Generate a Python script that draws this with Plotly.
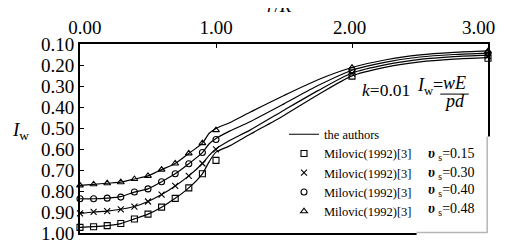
import plotly.graph_objects as go

# ---- data ----
line_x = [0, 0.1, 0.2, 0.3, 0.4, 0.5, 0.6, 0.7, 0.8, 0.9, 0.95, 1.0, 1.1, 1.25, 1.5, 1.75, 2.0, 2.25, 2.5, 2.75, 3.0]
line_015 = [0.973, 0.970, 0.965, 0.955, 0.933, 0.910, 0.877, 0.835, 0.785, 0.718, 0.660, 0.615, 0.585, 0.530, 0.440, 0.342, 0.252, 0.210, 0.185, 0.172, 0.165]
line_030 = [0.907, 0.900, 0.896, 0.887, 0.874, 0.850, 0.817, 0.776, 0.728, 0.669, 0.630, 0.600, 0.560, 0.510, 0.415, 0.322, 0.238, 0.198, 0.173, 0.160, 0.153]
line_040 = [0.837, 0.837, 0.834, 0.827, 0.805, 0.790, 0.756, 0.718, 0.670, 0.617, 0.575, 0.550, 0.515, 0.470, 0.385, 0.298, 0.225, 0.186, 0.162, 0.150, 0.143]
line_048 = [0.773, 0.768, 0.763, 0.758, 0.743, 0.728, 0.698, 0.669, 0.621, 0.572, 0.525, 0.502, 0.475, 0.425, 0.345, 0.270, 0.212, 0.175, 0.152, 0.140, 0.133]

mk_x = [0, 0.1, 0.2, 0.3, 0.4, 0.5, 0.6, 0.7, 0.8, 0.9, 1.0, 2.0, 3.0]
mk_015 = [0.973, 0.970, 0.965, 0.955, 0.933, 0.910, 0.877, 0.835, 0.785, 0.718, 0.654, 0.253, 0.168]
mk_030 = [0.907, 0.899, 0.896, 0.887, 0.874, 0.850, 0.817, 0.776, 0.728, 0.669, 0.602, 0.240, 0.157]
mk_040 = [0.837, 0.837, 0.834, 0.829, 0.805, 0.790, 0.756, 0.718, 0.670, 0.617, 0.555, 0.225, 0.145]
mk_048 = [0.773, 0.768, 0.763, 0.758, 0.743, 0.728, 0.698, 0.669, 0.621, 0.572, 0.510, 0.213, 0.134]

nu_labels = ["0.15", "0.30", "0.40", "0.48"]
x_ticks = [0, 1, 2, 3]
x_tick_labels = ["0.00", "1.00", "2.00", "3.00"]
y_ticks = [0.1, 0.2, 0.3, 0.4, 0.5, 0.6, 0.7, 0.8, 0.9, 1.0]

SERIF = "Liberation Serif"
NB = "\u00a0"

# small visual offsets of the top tick labels (as in the source figure)
pad_left = [2, 0, 0, 0]
pad_right = [0, 0, 1, 4]
x_tick_text = [NB * pl + t + NB * pr for t, pl, pr in zip(x_tick_labels, pad_left, pad_right)]

fig = go.Figure()

lines = [line_015, line_030, line_040, line_048]
for i, ys in enumerate(lines):
    fig.add_trace(go.Scatter(
        x=line_x, y=ys, mode="lines", name="the authors",
        line=dict(color="black", width=1.2, shape="spline", smoothing=0.7),
        showlegend=(i == 0), cliponaxis=False,
    ))

symbols = ["square-open", "x-thin-open", "circle-open", "triangle-up-open"]
marks = [mk_015, mk_030, mk_040, mk_048]
for sym, ys in zip(symbols, marks):
    fig.add_trace(go.Scatter(
        x=mk_x, y=ys, mode="markers", name="Milovic(1992)[3]",
        marker=dict(symbol=sym, size=6, color="black",
                    line=dict(color="black", width=1.1)),
        cliponaxis=False,
    ))

fig.update_layout(
    width=515, height=245,
    margin=dict(l=72, r=15, t=34, b=9),
    paper_bgcolor="white", plot_bgcolor="white",
    font=dict(family=SERIF, color="black"),
    showlegend=True,
    legend=dict(
        x=0.50, y=0.60, xanchor="left", yanchor="top",
        bgcolor="white", borderwidth=0,
        font=dict(family=SERIF, size=12.5, color="black"),
        traceorder="normal", itemwidth=30,
    ),
    xaxis=dict(
        side="top", range=[0, 3], tickvals=x_ticks, ticktext=x_tick_text,
        ticks="inside", ticklen=4, tickwidth=1, tickcolor="black",
        showline=True, linecolor="black", linewidth=2, mirror=True,
        showgrid=False, zeroline=False, ticklabeloverflow="allow",
        tickfont=dict(family=SERIF, size=19, color="black"),
    ),
    yaxis=dict(
        range=[1.0, 0.1], tickvals=y_ticks, tickformat=".2f",
        ticks="inside", ticklen=4, tickwidth=1, tickcolor="black",
        showline=True, linecolor="black", linewidth=2, mirror=True,
        showgrid=False, zeroline=False,
        tickfont=dict(family=SERIF, size=19, color="black"),
    ),
)

# legend box region covering lower-right of frame
fig.add_shape(type="rect", xref="paper", yref="paper",
              x0=0.825, x1=1.01, y0=-0.015, y1=0.51,
              fillcolor="white", line=dict(width=0), layer="above")
fig.add_shape(type="line", xref="paper", yref="paper",
              x0=0.998, x1=0.998, y0=0.0, y1=0.51,
              line=dict(color="#b5b5b5", width=1.5), layer="above")
fig.add_shape(type="line", xref="paper", yref="paper",
              x0=0.825, x1=0.998, y0=0.003, y1=0.003,
              line=dict(color="#b5b5b5", width=1.5), layer="above")

# axis titles
fig.add_annotation(text="<i>r</i>/<i>R</i>", xref="paper", yref="paper",
                   x=0.49, y=1.135, xanchor="center", yanchor="bottom",
                   showarrow=False, font=dict(family=SERIF, size=19))
fig.add_annotation(text="<i>I</i><sub>w</sub>", xref="paper", yref="paper",
                   x=-0.145, y=0.54, xanchor="center", yanchor="middle",
                   showarrow=False, font=dict(family=SERIF, size=19))

# formula
fig.add_annotation(text="<i>k</i>=0.01", xref="paper", yref="paper",
                   x=0.686, y=0.755, xanchor="left", yanchor="middle",
                   showarrow=False, font=dict(family=SERIF, size=17.5))
fig.add_annotation(text="<i>I</i><sub>w</sub>=", xref="paper", yref="paper",
                   x=0.822, y=0.775, xanchor="left", yanchor="middle",
                   showarrow=False, font=dict(family=SERIF, size=18))
fig.add_annotation(text="<i>wE</i>", xref="paper", yref="paper",
                   x=0.917, y=0.795, xanchor="center", yanchor="middle",
                   showarrow=False, font=dict(family=SERIF, size=18))
fig.add_annotation(text="<i>pd</i>", xref="paper", yref="paper",
                   x=0.917, y=0.70, xanchor="center", yanchor="middle",
                   showarrow=False, font=dict(family=SERIF, size=18))
fig.add_shape(type="line", xref="paper", yref="paper",
              x0=0.883, x1=0.953, y0=0.735, y1=0.735,
              line=dict(color="black", width=1))

# nu labels
nu_y = [0.416, 0.317, 0.223, 0.124]
for lab, yy in zip(nu_labels, nu_y):
    fig.add_annotation(text="<b><i>υ</i></b> <sub>s</sub>=" + lab, xref="paper", yref="paper",
                       x=0.848, y=yy, xanchor="left", yanchor="middle",
                       showarrow=False, font=dict(family=SERIF, size=14))

fig.write_html("out.html")
